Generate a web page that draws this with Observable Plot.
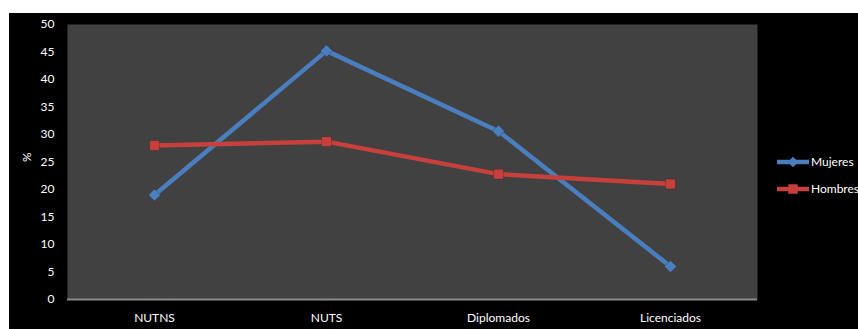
<!DOCTYPE html>
<html>
<head>
<meta charset="utf-8">
<script src="https://cdn.jsdelivr.net/npm/d3@7"></script>
<script src="https://cdn.jsdelivr.net/npm/@observablehq/plot@0.6"></script>
<style>
  html, body { margin: 0; padding: 0; background: #fff; }
  #wrap { position: relative; width: 858px; height: 329px; overflow: hidden; }
  #chart { position: absolute; left: 9px; top: 13px; width: 849px; height: 316px; background: #000; }
  #legend { position: absolute; left: 776px; top: 148px; font-family: Lato, "Open Sans", sans-serif; font-size: 12px; color: #fff; white-space: nowrap; }
  .item { display: flex; align-items: center; height: 27px; }
  .item svg { margin-right: 1px; }
</style>
</head>
<body>
<div id="wrap">
  <div id="chart"></div>
  <div id="legend"></div>
</div>
<script>
// Education level categories and shares (%) by sex
const categories = ["NUTNS", "NUTS", "Diplomados", "Licenciados"];
const mujeres = [19, 45.2, 30.6, 6];
const hombres = [28, 28.7, 22.8, 21];
const yTicks = [0, 5, 10, 15, 20, 25, 30, 35, 40, 45, 50];

const series = [
  {name: "Mujeres", values: mujeres, color: "#4a7ebf", symbol: "diamond2"},
  {name: "Hombres", values: hombres, color: "#c8403c", symbol: "square"}
];

const rows = series.flatMap(s => categories.map((c, i) => ({serie: s.name, cat: c, value: s.values[i]})));
const colorDomain = series.map(s => s.name);
const colorRange = series.map(s => s.color);

const plot = Plot.plot({
  width: 849,
  height: 316,
  marginLeft: 58,
  marginRight: 101,
  marginTop: 11,
  marginBottom: 30,
  style: {background: "#000", color: "#fff", fontFamily: "Lato, 'Open Sans', sans-serif", fontSize: "12px"},
  x: {domain: categories, padding: 0.5, tickSize: 0, tickPadding: 14, label: null},
  y: {domain: [0, 50], ticks: yTicks, tickSize: 0, tickPadding: 13, label: null},
  color: {domain: colorDomain, range: colorRange},
  symbol: {domain: colorDomain, range: series.map(s => s.symbol)},
  marks: [
    Plot.frame({fill: "#414141", stroke: null}),
    Plot.ruleY([0], {stroke: "#8a8a8a", strokeWidth: 2}),
    Plot.line(rows, {x: "cat", y: "value", z: "serie", stroke: "serie", strokeWidth: 4.5}),
    Plot.dot(rows, {x: "cat", y: "value", fill: "serie", symbol: "serie", r: 5.5, stroke: "#222", strokeOpacity: 0.35, strokeWidth: 0.8}),
    Plot.text(["%"], {frameAnchor: "left", dx: -40, rotate: -90, fill: "#fff", fontSize: 12})
  ]
});
document.getElementById("chart").appendChild(plot);

// Legend entries: line segment with marker, then series name
const legend = d3.select("#legend");
series.forEach(s => {
  const item = legend.append("div").attr("class", "item");
  const svg = item.append("svg").attr("width", 34).attr("height", 14);
  svg.append("line").attr("x1", 1).attr("x2", 33).attr("y1", 7).attr("y2", 7)
    .attr("stroke", s.color).attr("stroke-width", 4.5);
  const sym = s.symbol === "square" ? d3.symbolSquare : d3.symbolDiamond2;
  svg.append("path").attr("d", d3.symbol(sym, s.symbol === "square" ? 90 : 70)())
    .attr("transform", "translate(17,7)").attr("fill", s.color);
  item.append("span").text(s.name);
});
</script>
</body>
</html>
